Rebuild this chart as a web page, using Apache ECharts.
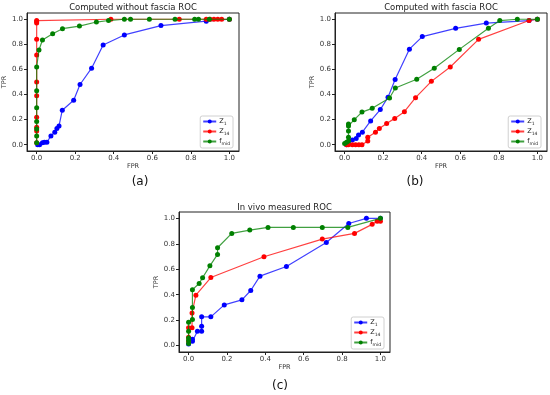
<!DOCTYPE html>
<html><head><meta charset="utf-8">
<script src="https://cdn.jsdelivr.net/npm/echarts@6/dist/echarts.min.js"></script>
<style>html,body{margin:0;padding:0;background:#fff}#c{width:550px;height:395px}</style>
</head><body><div id="c"></div>
<script>
const tickValues = [0, 0.2, 0.4, 0.6, 0.8, 1.0];
const seriesNames = ['Z1', 'Z14', 'fmid'];
const panelTitles = ['Computed without fascia ROC', 'Computed with fascia ROC', 'In vivo measured ROC'];
const panelLabels = ['(a)', '(b)', '(c)'];

// (a) Computed without fascia
const aZ1 = [[0.005,0.0],[0.015,0.0],[0.03,0.015],[0.04,0.02],[0.053,0.02],[0.074,0.07],[0.094,0.1],[0.105,0.13],[0.116,0.15],[0.133,0.275],[0.192,0.355],[0.225,0.48],[0.285,0.61],[0.345,0.795],[0.455,0.875],[0.645,0.95],[0.88,0.985],[1.0,1.0]];
const aZ14 = [[0.0,0.015],[0.0,0.11],[0.0,0.14],[0.0,0.22],[0.0,0.39],[0.0,0.5],[0.0,0.715],[0.0,0.84],[0.0,0.97],[0.0,0.98],[0.0,0.99],[0.385,1.0],[0.74,1.0],[0.88,1.0],[0.9,1.0],[0.92,1.0],[0.94,1.0],[0.96,1.0],[1.0,1.0]];
const aFmid = [[0.0,0.015],[0.0,0.07],[0.0,0.125],[0.0,0.185],[0.0,0.295],[0.0,0.43],[0.0,0.62],[0.012,0.755],[0.03,0.835],[0.083,0.885],[0.134,0.925],[0.222,0.946],[0.31,0.978],[0.373,0.99],[0.455,1.0],[0.487,1.0],[0.585,1.0],[0.718,1.0],[0.82,1.0],[0.84,1.0],[0.896,1.0],[1.0,1.0]];

// (b) Computed with fascia
const bZ1 = [[0.01,0.0],[0.02,0.01],[0.04,0.037],[0.06,0.05],[0.072,0.078],[0.092,0.1],[0.135,0.19],[0.185,0.28],[0.225,0.378],[0.262,0.52],[0.336,0.762],[0.403,0.862],[0.576,0.928],[0.735,0.97],[0.957,0.99],[1.0,1.0]];
const bZ14 = [[0.01,0.0],[0.02,0.0],[0.04,0.0],[0.057,0.0],[0.074,0.0],[0.09,0.0],[0.12,0.03],[0.12,0.06],[0.16,0.1],[0.18,0.13],[0.218,0.17],[0.26,0.21],[0.31,0.263],[0.368,0.375],[0.45,0.505],[0.548,0.62],[0.695,0.84],[0.957,0.99],[1.0,1.0]];
const bFmid = [[0.0,0.01],[0.01,0.02],[0.02,0.03],[0.02,0.06],[0.02,0.11],[0.02,0.15],[0.02,0.165],[0.05,0.2],[0.09,0.26],[0.143,0.29],[0.233,0.372],[0.263,0.452],[0.374,0.522],[0.465,0.61],[0.595,0.76],[0.746,0.928],[0.805,0.99],[0.896,1.0],[1.0,1.0]];

// (c) In vivo measured
const cZ1 = [[0.0,0.013],[0.02,0.035],[0.02,0.05],[0.046,0.113],[0.068,0.113],[0.068,0.152],[0.068,0.226],[0.116,0.226],[0.186,0.32],[0.278,0.36],[0.324,0.433],[0.372,0.546],[0.51,0.622],[0.718,0.81],[0.835,0.96],[0.927,1.0],[1.0,1.0]];
const cZ14 = [[0.0,0.035],[0.0,0.065],[0.0,0.14],[0.018,0.14],[0.018,0.257],[0.038,0.396],[0.116,0.535],[0.393,0.698],[0.697,0.837],[0.865,0.882],[0.957,0.953],[0.983,0.977],[1.0,0.977]];
const cFmid = [[0.0,0.016],[0.0,0.04],[0.0,0.06],[0.0,0.113],[0.0,0.184],[0.02,0.205],[0.02,0.3],[0.02,0.44],[0.055,0.488],[0.073,0.533],[0.111,0.627],[0.151,0.717],[0.151,0.769],[0.225,0.882],[0.319,0.908],[0.414,0.929],[0.546,0.929],[0.697,0.929],[0.83,0.929],[1.0,1.0]];

const panelData = [[aZ1, aZ14, aFmid], [bZ1, bZ14, bFmid], [cZ1, cZ14, cFmid]];
const colors = ['#0000ff', '#ff0000', '#008000'];
const FONT = 'DejaVu Sans';

const grids = [
  {left: 27, top: 13, width: 212, height: 138},
  {left: 335, top: 13, width: 212, height: 138},
  {left: 179, top: 212, width: 211, height: 140}
];
const titleTop = [3, 3, 203];
const labelPos = [[140, 176], [415, 176], [280, 380]];

const option = {
  animation: false,
  backgroundColor: '#fff',
  textStyle: {fontFamily: FONT},
  grid: grids.map(g => Object.assign({show: true, borderColor: '#222', borderWidth: 1, backgroundColor: '#fff'}, g)),
  title: [],
  legend: [],
  xAxis: [],
  yAxis: [],
  series: []
};

const legendFmt = n => n === 'Z1' ? 'Z{s|1}' : n === 'Z14' ? 'Z{s|14}' : 'f{s|mid}';

grids.forEach((g, i) => {
  option.title.push({
    text: panelTitles[i], left: g.left + g.width / 2, top: titleTop[i], textAlign: 'center', padding: 0,
    textStyle: {fontFamily: FONT, fontSize: 8.5, fontWeight: 'normal', color: '#222'}
  });
  option.title.push({
    text: panelLabels[i], left: labelPos[i][0], top: labelPos[i][1], textAlign: 'center', padding: 0,
    textStyle: {fontFamily: FONT, fontSize: 12, fontWeight: 'normal', color: '#111'}
  });
  option.legend.push({
    data: seriesNames, orient: 'vertical', align: 'left',
    right: 550 - (g.left + g.width) + 6, bottom: 395 - (g.top + g.height) + 3,
    itemWidth: 13, itemHeight: 5, itemGap: 2,
    padding: [2, 3, 2, 2],
    borderColor: '#d0d0d0', borderWidth: 1, borderRadius: 2, backgroundColor: '#fff',
    formatter: legendFmt,
    textStyle: {fontFamily: FONT, fontSize: 6.5, color: '#222', padding: [0, 0, 0, -2], rich: {s: {fontSize: 4.5, verticalAlign: 'bottom', padding: [4, 0, 0, 0], fontFamily: FONT, color: '#222'}}},
    selectedMode: false
  });
  option.xAxis.push({
    type: 'value', gridIndex: i, min: -0.05, max: 1.05,
    name: 'FPR', nameLocation: 'middle', nameGap: 12,
    nameTextStyle: {fontFamily: FONT, fontSize: 6.5, color: '#333'},
    axisLine: {show: true, onZero: false, lineStyle: {color: '#222', width: 1}},
    axisTick: {show: true, length: 3, customValues: tickValues, lineStyle: {color: '#222'}},
    axisLabel: {customValues: tickValues, formatter: v => v.toFixed(1), fontFamily: FONT, fontSize: 7, color: '#333', margin: 4},
    splitLine: {show: false}
  });
  option.yAxis.push({
    type: 'value', gridIndex: i, min: -0.05, max: 1.05,
    name: 'TPR', nameLocation: 'middle', nameGap: 16,
    nameTextStyle: {fontFamily: FONT, fontSize: 6.5, color: '#333'},
    axisLine: {show: true, onZero: false, lineStyle: {color: '#222', width: 1}},
    axisTick: {show: true, length: 3, customValues: tickValues, lineStyle: {color: '#222'}},
    axisLabel: {customValues: tickValues, formatter: v => v.toFixed(1), fontFamily: FONT, fontSize: 7, color: '#333', margin: 4},
    splitLine: {show: false}
  });
  panelData[i].forEach((d, k) => {
    option.series.push({
      type: 'line', name: seriesNames[k], xAxisIndex: i, yAxisIndex: i,
      data: d, symbol: 'circle', symbolSize: 5, showSymbol: true,
      itemStyle: {color: colors[k]},
      lineStyle: {color: colors[k], width: 1.2, opacity: 0.75},
      z: 2 + k, silent: true
    });
  });
});

const chart = echarts.init(document.getElementById('c'), null, {renderer: 'canvas'});
chart.setOption(option);
</script></body></html>
